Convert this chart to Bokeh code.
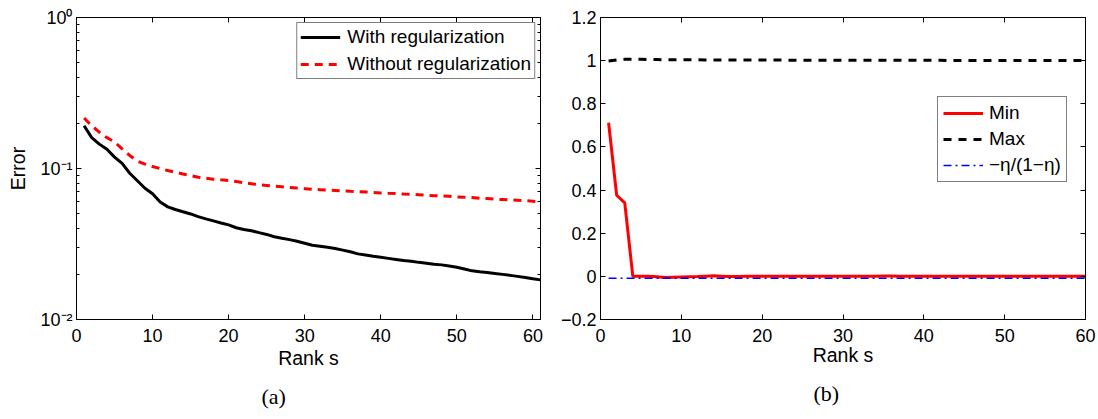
from bokeh.plotting import figure
from bokeh.models import Range1d, FixedTicker, LinearAxis, LogAxis, Legend, Title
from bokeh.layouts import row
from bokeh.embed import file_html
from bokeh.resources import INLINE

# ---------------- data ----------------
rank_a = list(range(1, 62))
with_reg = [0.192, 0.160, 0.145, 0.134, 0.119, 0.108, 0.093, 0.083, 0.074, 0.068,
            0.060, 0.0557, 0.0535, 0.0517, 0.050, 0.048, 0.0464, 0.045, 0.0436, 0.0423,
            0.0405, 0.0395, 0.0387, 0.0376, 0.0366, 0.0353, 0.0345, 0.0338, 0.033, 0.032,
            0.031, 0.0306, 0.0301, 0.0295, 0.0288, 0.0281, 0.0272, 0.0267, 0.0262, 0.0258,
            0.0254, 0.025, 0.0246, 0.0243, 0.0239, 0.0236, 0.0232, 0.023, 0.0226, 0.0222,
            0.0216, 0.021, 0.0207, 0.0205, 0.0202, 0.0199, 0.0196, 0.0193, 0.019, 0.0186, 0.0183]
without_reg = [0.216, 0.192, 0.174, 0.160, 0.150, 0.135, 0.122, 0.112, 0.107, 0.103,
               0.0998, 0.0969, 0.0944, 0.092, 0.0898, 0.0875, 0.0863, 0.085, 0.0841, 0.0833,
               0.082, 0.0804, 0.0792, 0.078, 0.0773, 0.0764, 0.0757, 0.075, 0.0742, 0.0735,
               0.0728, 0.0724, 0.072, 0.0716, 0.071, 0.0706, 0.0703, 0.0699, 0.0695, 0.0689,
               0.0685, 0.0682, 0.0678, 0.0675, 0.0671, 0.0665, 0.0661, 0.0658, 0.0655, 0.0648,
               0.0645, 0.0642, 0.0635, 0.0632, 0.0626, 0.0623, 0.062, 0.0616, 0.0613, 0.0607, 0.0601]

rank_b = list(range(1, 61))
min_vals = [0.712, 0.376, 0.341, 0.0, 0.001, 0.001, -0.002, -0.005, -0.004, -0.003,
            -0.002, -0.001, 0.001, 0.003, 0.001, -0.001, -0.001, 0.0, 0.001, 0.001,
            0.0, 0.0, 0.001, 0.001, 0.001, 0.001, 0.001, 0.001, 0.0, 0.0,
            0.001, 0.001, 0.001, 0.001, 0.002, 0.002, 0.001, 0.001, 0.001, 0.001,
            0.001, 0.001, 0.001, 0.001, 0.001, 0.001, 0.001, 0.001, 0.001, 0.001,
            0.001, 0.001, 0.001, 0.001, 0.001, 0.001, 0.001, 0.001, 0.001, 0.001]
max_vals = [0.998, 1.003, 1.006, 1.006, 1.006, 1.005, 1.005, 1.004, 1.004, 1.004,
            1.004, 1.004, 1.003, 1.003, 1.003, 1.003, 1.003, 1.003, 1.003, 1.003,
            1.003, 1.003, 1.002, 1.002, 1.002, 1.002, 1.002, 1.002, 1.002, 1.002,
            1.002, 1.002, 1.002, 1.002, 1.002, 1.002, 1.002, 1.002, 1.002, 1.002,
            1.002, 1.002, 1.001, 1.001, 1.001, 1.001, 1.001, 1.001, 1.001, 1.001,
            1.001, 1.001, 1.001, 1.001, 1.001, 1.001, 1.001, 1.001, 1.001, 1.001]
eta_vals = [-0.009, -0.009, -0.009, -0.009, -0.009, -0.009, -0.009, -0.009, -0.009, -0.009,
            -0.009, -0.009, -0.009, -0.009, -0.009, -0.009, -0.009, -0.009, -0.009, -0.009,
            -0.009, -0.009, -0.009, -0.009, -0.009, -0.009, -0.009, -0.009, -0.009, -0.009,
            -0.009, -0.009, -0.009, -0.009, -0.009, -0.009, -0.009, -0.009, -0.009, -0.009,
            -0.009, -0.009, -0.009, -0.009, -0.009, -0.009, -0.009, -0.009, -0.009, -0.009,
            -0.009, -0.009, -0.009, -0.009, -0.009, -0.009, -0.009, -0.009, -0.009, -0.009]

x_ticks = [0, 10, 20, 30, 40, 50, 60]
log_ticks = [0.01, 0.1, 1]
log_tick_labels = ["10\u207b\u00b2", "10\u207b\u00b9", "10\u2070"]
log_minor = [0.02, 0.03, 0.04, 0.05, 0.06, 0.07, 0.08, 0.09,
             0.2, 0.3, 0.4, 0.5, 0.6, 0.7, 0.8, 0.9]
lin_ticks_b = [-0.2, 0, 0.2, 0.4, 0.6, 0.8, 1, 1.2]
lin_tick_labels_b = ["\u22120.2", "0", "0.2", "0.4", "0.6", "0.8", "1", "1.2"]

legend_a = ["With regularization", "Without regularization"]
legend_b = ["Min", "Max", "\u2212\u03b7/(1\u2212\u03b7)"]
captions = ["(a)", "(b)"]

FONT = "Liberation Sans"
SERIF = "Liberation Serif"


def style_axis(ax, hidden=False):
    ax.axis_line_color = "black"
    ax.axis_line_width = 1
    ax.major_tick_line_color = "black"
    ax.minor_tick_line_color = "black"
    ax.major_tick_in = 5
    ax.major_tick_out = 0
    ax.minor_tick_in = 3
    ax.minor_tick_out = 0
    ax.major_label_text_font = FONT
    ax.major_label_text_font_size = "18px"
    ax.major_label_text_color = "black"
    ax.axis_label_text_font = FONT
    ax.axis_label_text_font_size = "19.5px"
    ax.axis_label_text_font_style = "normal"
    ax.axis_label_text_color = "black"
    if hidden:
        # mirrored tick-only axis (MATLAB box style): labels not drawn
        ax.major_label_text_font_size = "2px"
        ax.major_label_text_color = None
        ax.major_label_standoff = 0


def style_fig(p):
    p.grid.grid_line_color = None
    p.outline_line_color = "black"
    p.outline_line_width = 1
    p.background_fill_color = "white"
    p.border_fill_color = "white"


def style_legend(leg):
    leg.border_line_color = "black"
    leg.border_line_width = 1
    leg.background_fill_color = "white"
    leg.background_fill_alpha = 1
    leg.label_text_font = FONT
    leg.label_text_font_size = "19px"
    leg.label_text_color = "black"
    leg.label_height = 20
    leg.glyph_height = 20


def caption(text, offset):
    return Title(text=text, align="left", offset=offset, standoff=21,
                 text_font=SERIF, text_font_size="22px", text_font_style="normal",
                 text_color="black")


# ---------------- panel (a) ----------------
pa = figure(width=548, height=419, x_range=Range1d(0, 61), y_range=Range1d(0.01, 1),
            y_axis_type="log", output_backend="svg", toolbar_location=None,
            min_border_left=76, min_border_right=8, min_border_top=16, min_border_bottom=97)
style_fig(pa)
xa = pa.xaxis[0]
ya = pa.yaxis[0]
style_axis(xa)
style_axis(ya)
xa.ticker = FixedTicker(ticks=x_ticks)
xa.axis_label = "Rank s"
xa.major_label_standoff = 9
xa.axis_label_standoff = 2
ya.ticker = FixedTicker(ticks=log_ticks, minor_ticks=log_minor)
ya.major_label_overrides = dict(zip(log_ticks, log_tick_labels))
ya.axis_label = "Error"
ya.major_label_standoff = 4
ya.axis_label_standoff = 8

top_a = LinearAxis(ticker=FixedTicker(ticks=x_ticks))
style_axis(top_a, hidden=True)
pa.add_layout(top_a, "above")
right_a = LogAxis(ticker=FixedTicker(ticks=log_ticks, minor_ticks=log_minor))
style_axis(right_a, hidden=True)
pa.add_layout(right_a, "right")

la1 = pa.line(rank_a, with_reg, line_color="black", line_width=3)
la2 = pa.line(rank_a, without_reg, line_color="red", line_width=3, line_dash="8 6")
leg_a = Legend(items=[(legend_a[0], [la1]), (legend_a[1], [la2])],
               location="top_right", margin=5, padding=3, spacing=5,
               glyph_width=40, label_standoff=7)
style_legend(leg_a)
pa.add_layout(leg_a)
pa.add_layout(caption(captions[0], 185), "below")

# ---------------- panel (b) ----------------
pb = figure(width=550, height=419, x_range=Range1d(0, 60), y_range=Range1d(-0.2, 1.2),
            output_backend="svg", toolbar_location=None,
            min_border_left=52, min_border_right=13, min_border_top=17, min_border_bottom=100)
style_fig(pb)
xb = pb.xaxis[0]
yb = pb.yaxis[0]
style_axis(xb)
style_axis(yb)
xb.ticker = FixedTicker(ticks=x_ticks)
xb.axis_label = "Rank s"
xb.major_label_standoff = 9
xb.axis_label_standoff = -1
yb.ticker = FixedTicker(ticks=lin_ticks_b)
yb.major_label_overrides = dict(zip(lin_ticks_b, lin_tick_labels_b))
yb.major_label_standoff = 4

top_b = LinearAxis(ticker=FixedTicker(ticks=x_ticks))
style_axis(top_b, hidden=True)
pb.add_layout(top_b, "above")
right_b = LinearAxis(ticker=FixedTicker(ticks=lin_ticks_b))
style_axis(right_b, hidden=True)
pb.add_layout(right_b, "right")

lb1 = pb.line(rank_b, min_vals, line_color="red", line_width=3)
lb2 = pb.line(rank_b, max_vals, line_color="black", line_width=3, line_dash="8 7")
lb3 = pb.line(rank_b, eta_vals, line_color="blue", line_width=1.5, line_dash="8 4 2 4")
leg_b = Legend(items=[(legend_b[0], [lb1]), (legend_b[1], [lb2]), (legend_b[2], [lb3])],
               location=(337, 137), padding=5, spacing=4,
               glyph_width=40, label_standoff=6)
style_legend(leg_b)
pb.add_layout(leg_b)
pb.add_layout(caption(captions[1], 213), "below")

layout = row(pa, pb)
open("out.html", "w").write(file_html(layout, INLINE))
